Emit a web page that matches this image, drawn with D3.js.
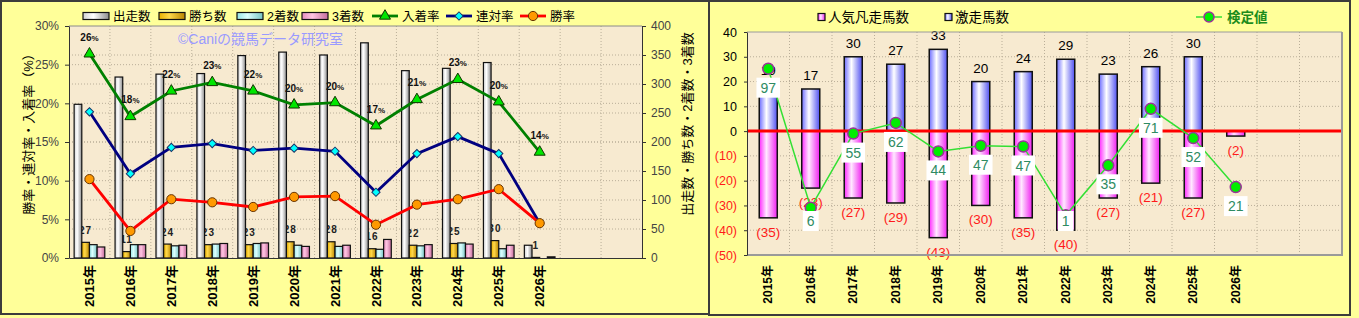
<!DOCTYPE html>
<html>
<head>
<meta charset="utf-8">
<title>競馬データ</title>
<script src="https://d3js.org/d3.v7.min.js"></script>
<style>
  body { margin: 0; background: #ffff99; }
  #chart text { font-family: "Liberation Sans", "Noto Sans CJK JP", sans-serif; }
  .grid line { stroke: #b9ae98; stroke-dasharray: 1,2; stroke-width: 1; }
</style>
</head>
<body>
<svg id="chart" width="1359" height="318"></svg>
<script>
// ---- data ----
const years = ["2015年","2016年","2017年","2018年","2019年","2020年","2021年","2022年","2023年","2024年","2025年","2026年"];
const padSlots = ["pad1", "pad2"];   // two empty columns at the right

// left chart: counts
const runs    = [265, 312, 317, 318, 349, 355, 350, 371, 323, 327, 337, 22];
const wins    = [27, 11, 24, 23, 23, 28, 28, 16, 22, 25, 30, 1];
const seconds = [23, 23, 21, 24, 25, 22, 20, 15, 21, 26, 16, 0];
const thirds  = [19, 23, 22, 25, 26, 20, 22, 32, 23, 24, 22, 2];
// left chart: rates (%)
const winRate    = [10.2, 3.5, 7.6, 7.2, 6.6, 7.9, 8.0, 4.3, 6.9, 7.6, 8.9, 4.5];
const rentaiRate = [18.9, 10.9, 14.3, 14.8, 13.9, 14.2, 13.8, 8.5, 13.5, 15.7, 13.5, 4.5];
const placeRate  = [26.4, 18.3, 21.6, 22.7, 21.6, 19.8, 20.1, 17.1, 20.5, 23.1, 20.2, 13.7];

// right chart
const gekisou   = [19, 17, 30, 27, 33, 20, 24, 29, 23, 26, 30, 0];
const bonsou    = [35, 23, 27, 29, 43, 30, 35, 40, 27, 21, 27, 2];
const kentei    = [97, 6, 55, 62, 44, 47, 47, 1, 35, 71, 52, 21];
const kenteiPos = [25.2, -30.9, -1, 3.3, -8.2, -5.9, -6.2, -34, -13.8, 9, -2.8, -22.6];

// ---- drawing ----
const svg = d3.select("#chart");
const defs = svg.append("defs");

function cylinder(id, edgeL, mid, edgeR) {
  const g = defs.append("linearGradient").attr("id", id)
    .attr("x1", 0).attr("x2", 1).attr("y1", 0).attr("y2", 0);
  g.append("stop").attr("offset", "0%").attr("stop-color", edgeL);
  g.append("stop").attr("offset", "40%").attr("stop-color", mid);
  g.append("stop").attr("offset", "100%").attr("stop-color", edgeR);
}
cylinder("gRuns", "#d0d0d0", "#ffffff", "#8c8c8c");
cylinder("gWins", "#e8b000", "#ffd84a", "#b88400");
cylinder("gSec",  "#98e4e4", "#dcffff", "#78c4c4");
cylinder("gThi",  "#e48cbc", "#ffc4e2", "#c46c9c");
cylinder("gBlue", "#6c6cff", "#ffffff", "#5050f0");
cylinder("gPink", "#ff28ff", "#ffe8ff", "#f020f0");

// panels
svg.append("rect").attr("x", 1).attr("y", 1).attr("width", 708).attr("height", 313)
  .attr("fill", "#ffff99").attr("stroke", "#3c3c3c").attr("stroke-width", 2);
svg.append("rect").attr("x", 709).attr("y", 1).attr("width", 641).attr("height", 314)
  .attr("fill", "#ffff99").attr("stroke", "#3c3c3c").attr("stroke-width", 2);

function styleAxis(g, size) {
  g.attr("font-size", null).attr("font-family", null);
  g.selectAll("path, line").attr("stroke", "#333");
  g.selectAll("text").attr("font-size", size).attr("fill", "#444");
}

// ================= left chart =================
const L = {left: 69, right: 642, top: 26, bottom: 258};
const xL = d3.scaleBand().domain(years.concat(padSlots)).range([L.left, L.right]);
const yRate = d3.scaleLinear().domain([0, 30]).range([L.bottom, L.top]);
const yCount = d3.scaleLinear().domain([0, 400]).range([L.bottom, L.top]);
const barKeys = ["runs", "wins", "seconds", "thirds"];
const xSub = d3.scaleBand().domain(barKeys).range([0, xL.bandwidth()]).paddingOuter(0.67);
const cxL = i => xL(years[i]) + xL.bandwidth() / 2;

const gl = svg.append("g");
gl.append("rect").attr("x", L.left).attr("y", L.top)
  .attr("width", L.right - L.left).attr("height", L.bottom - L.top).attr("fill", "#f7ead0");

const gridL = gl.append("g").attr("class", "grid");
gridL.selectAll("line.v").data(xL.domain().slice(1)).join("line").attr("class", "v")
  .attr("x1", d => xL(d)).attr("x2", d => xL(d)).attr("y1", L.top).attr("y2", L.bottom);
gridL.selectAll("line.hr").data(d3.range(5, 30, 5)).join("line").attr("class", "hr")
  .attr("x1", L.left).attr("x2", L.right).attr("y1", d => yRate(d)).attr("y2", d => yRate(d));
gridL.selectAll("line.hc").data(d3.range(50, 400, 50)).join("line").attr("class", "hc")
  .attr("x1", L.left).attr("x2", L.right).attr("y1", d => yCount(d)).attr("y2", d => yCount(d));

// watermark
gl.append("text").attr("x", 178).attr("y", 44).attr("font-size", 14).attr("fill", "#9a9aff")
  .text("©Caniの競馬データ研究室");

// win count labels (sit behind the bars)
gl.append("g").selectAll("text").data(wins).join("text")
  .attr("x", (d, i) => xL(years[i]) + xSub("wins") + xSub.bandwidth() / 2)
  .attr("y", d => yCount(d) - 8.5)
  .attr("text-anchor", "middle").attr("font-size", 10).attr("font-weight", "bold")
  .attr("letter-spacing", 1).attr("fill", "#222")
  .text(d => d);

const barSeries = [
  {key: "runs", values: runs, fill: "url(#gRuns)"},
  {key: "wins", values: wins, fill: "url(#gWins)"},
  {key: "seconds", values: seconds, fill: "url(#gSec)"},
  {key: "thirds", values: thirds, fill: "url(#gThi)"}
];
barSeries.forEach(s => {
  gl.append("g").selectAll("rect")
    .data(s.values.map((v, i) => ({v, i})).filter(d => d.v > 0))
    .join("rect")
    .attr("x", d => xL(years[d.i]) + xSub(s.key))
    .attr("y", d => yCount(d.v))
    .attr("width", xSub.bandwidth())
    .attr("height", d => yCount(0) - yCount(d.v))
    .attr("fill", s.fill).attr("stroke", "#111").attr("stroke-width", 1.2);
});

// drawn in this order so the win rate sits on top
const lineSeries = [
  {name: "入着率", values: placeRate, color: "#008000", marker: "tri"},
  {name: "連対率", values: rentaiRate, color: "#000080", marker: "dia"},
  {name: "勝率", values: winRate, color: "#ff0000", marker: "dot"}
];

function drawMarker(g, type) {
  if (type === "tri") {
    g.append("path").attr("d", d3.symbol(d3.symbolTriangle, 52)())
      .attr("fill", "#00e600").attr("stroke", "#113300").attr("stroke-width", 1);
  } else if (type === "dia") {
    g.append("path").attr("d", d3.symbol(d3.symbolSquare, 34)()).attr("transform", "rotate(45)")
      .attr("fill", "#00ffff").attr("stroke", "#1a3366").attr("stroke-width", 1);
  } else {
    g.append("circle").attr("r", 4.6)
      .attr("fill", "#ff9900").attr("stroke", "#663300").attr("stroke-width", 1);
  }
}

lineSeries.forEach(s => {
  gl.append("path").datum(s.values)
    .attr("fill", "none").attr("stroke", s.color).attr("stroke-width", 2.8)
    .attr("d", d3.line().x((d, i) => cxL(i)).y(d => yRate(d)));
  gl.append("g").selectAll("g").data(s.values).join("g")
    .attr("transform", (d, i) => `translate(${cxL(i)},${yRate(d)})`)
    .each(function() { drawMarker(d3.select(this), s.marker); });
});

// place rate labels
const plab = gl.append("g").selectAll("text").data(placeRate).join("text")
  .attr("x", (d, i) => cxL(i)).attr("y", d => yRate(d) - 13)
  .attr("text-anchor", "middle").attr("font-size", 10).attr("font-weight", "bold").attr("fill", "#111");
plab.append("tspan").text(d => Math.round(d));
plab.append("tspan").attr("font-size", 8).text("%");

// axes
gl.append("line").attr("x1", L.left).attr("x2", L.right).attr("y1", L.top).attr("y2", L.top)
  .attr("stroke", "#8a8a8a");
gl.append("g").attr("transform", `translate(${L.left},0)`)
  .call(d3.axisLeft(yRate).tickValues(d3.range(0, 31, 5)).tickFormat(d => d + "%")
    .tickSize(4).tickSizeOuter(0).tickPadding(6))
  .call(g => styleAxis(g, 12));
gl.append("g").attr("transform", `translate(${L.right},0)`)
  .call(d3.axisRight(yCount).tickValues(d3.range(0, 401, 50))
    .tickSize(4).tickSizeOuter(0).tickPadding(5))
  .call(g => styleAxis(g, 12));
gl.append("g").attr("transform", `translate(0,${L.bottom})`)
  .call(d3.axisBottom(xL).tickSize(0).tickSizeOuter(0).tickFormat(d => years.includes(d) ? d : ""))
  .call(g => {
    styleAxis(g, 13);
    g.selectAll("text").attr("transform", "rotate(-90)").attr("text-anchor", "end")
      .attr("x", -7).attr("y", 0).attr("dy", "0.35em")
      .attr("font-weight", "bold").attr("fill", "#000");
  });

// axis titles
gl.append("text").attr("transform", "translate(33,131) rotate(-90)")
  .attr("text-anchor", "middle").attr("font-size", 13).attr("fill", "#000")
  .text("勝率・連対率・入着率（%）");
gl.append("text").attr("transform", "translate(692,124) rotate(-90)")
  .attr("text-anchor", "middle").attr("font-size", 13).attr("fill", "#000")
  .text("出走数・勝ち数・2着数・3着数");

// legend
const legL = [
  {label: "出走数", kind: "bar", fill: "url(#gRuns)", x: 83},
  {label: "勝ち数", kind: "bar", fill: "url(#gWins)", x: 159},
  {label: "2着数", kind: "bar", fill: "url(#gSec)", x: 237},
  {label: "3着数", kind: "bar", fill: "url(#gThi)", x: 302},
  {label: "入着率", kind: "line", color: "#008000", marker: "tri", x: 372},
  {label: "連対率", kind: "line", color: "#000080", marker: "dia", x: 446},
  {label: "勝率", kind: "line", color: "#ff0000", marker: "dot", x: 520}
];
const lgL = gl.append("g").selectAll("g").data(legL).join("g")
  .attr("transform", d => `translate(${d.x},16)`);
lgL.each(function(d) {
  const g = d3.select(this);
  if (d.kind === "bar") {
    g.append("rect").attr("x", 0).attr("y", -3.5).attr("width", 26).attr("height", 7)
      .attr("fill", d.fill).attr("stroke", "#111").attr("stroke-width", 1.2);
  } else {
    g.append("line").attr("x1", 0).attr("x2", 26).attr("stroke", d.color).attr("stroke-width", 2.8);
    drawMarker(g.append("g").attr("transform", "translate(13,0)"), d.marker);
  }
  g.append("text").attr("x", 30).attr("dy", "0.36em").attr("font-size", 12.5).attr("fill", "#000")
    .text(d.label);
});

// ================= right chart =================
const R = {left: 747, right: 1342, top: 32, bottom: 255};
const xR = d3.scaleBand().domain(years.concat(padSlots)).range([R.left, R.right])
  .paddingInner(0.576).paddingOuter(0.288);
const yR = d3.scaleLinear().domain([-50, 40]).range([R.bottom, R.top]);
const cxR = i => xR(years[i]) + xR.bandwidth() / 2;

const gr = svg.append("g");
gr.append("rect").attr("x", R.left).attr("y", R.top)
  .attr("width", R.right - R.left).attr("height", R.bottom - R.top).attr("fill", "#f7ead0");

const gridR = gr.append("g").attr("class", "grid");
gridR.selectAll("line.v").data(d3.range(1, xR.domain().length)).join("line").attr("class", "v")
  .attr("x1", k => R.left + k * xR.step()).attr("x2", k => R.left + k * xR.step())
  .attr("y1", R.top).attr("y2", R.bottom);
gridR.selectAll("line.h").data(d3.range(-40, 40, 10)).join("line").attr("class", "h")
  .attr("x1", R.left).attr("x2", R.right).attr("y1", d => yR(d)).attr("y2", d => yR(d));

// bars
gr.append("g").selectAll("rect").data(bonsou).join("rect")
  .attr("x", (d, i) => xR(years[i])).attr("width", xR.bandwidth())
  .attr("y", yR(0)).attr("height", d => yR(-d) - yR(0))
  .attr("fill", "url(#gPink)").attr("stroke", "#111").attr("stroke-width", 1.5);
gr.append("g").selectAll("rect").data(gekisou.map((v, i) => ({v, i})).filter(d => d.v > 0)).join("rect")
  .attr("x", d => xR(years[d.i])).attr("width", xR.bandwidth())
  .attr("y", d => yR(d.v)).attr("height", d => yR(0) - yR(d.v))
  .attr("fill", "url(#gBlue)").attr("stroke", "#111").attr("stroke-width", 1.5);

// bar labels
gr.append("g").selectAll("text").data(gekisou.map((v, i) => ({v, i})).filter(d => d.v > 0)).join("text")
  .attr("x", d => cxR(d.i)).attr("y", d => yR(d.v) - 9)
  .attr("text-anchor", "middle").attr("font-size", 13.5).attr("fill", "#000")
  .text(d => d.v);
gr.append("g").selectAll("text").data(bonsou).join("text")
  .attr("x", (d, i) => cxR(i)).attr("y", d => yR(-d) + 19)
  .attr("text-anchor", "middle").attr("font-size", 13.5).attr("fill", "#ff1a1a")
  .text(d => `(${d})`);

// zero line
gr.append("line").attr("x1", R.left).attr("x2", R.right).attr("y1", yR(0)).attr("y2", yR(0))
  .attr("stroke", "#ff0000").attr("stroke-width", 3);

// 検定値 line
gr.append("path").datum(kenteiPos)
  .attr("fill", "none").attr("stroke", "#33e033").attr("stroke-width", 1.5)
  .attr("d", d3.line().x((d, i) => cxR(i)).y(d => yR(d)));
gr.append("g").selectAll("circle").data(kenteiPos).join("circle")
  .attr("cx", (d, i) => cxR(i)).attr("cy", d => yR(d)).attr("r", 5.5)
  .attr("fill", "#00ee00").attr("stroke", "#993399").attr("stroke-width", 1.5);
const kl = gr.append("g").selectAll("g").data(kentei).join("g")
  .attr("transform", (d, i) => `translate(${cxR(i)},${Math.min(yR(kenteiPos[i]) + 19, R.bottom - 34)})`);
kl.append("rect");
kl.append("text").attr("text-anchor", "middle").attr("dy", "0.36em").attr("font-size", 14)
  .attr("fill", "#2e8b62").text(d => d);
kl.each(function() {
  const g = d3.select(this);
  const w = g.select("text").node().getComputedTextLength();
  g.select("rect").attr("x", -w / 2 - 4).attr("y", -10).attr("width", w + 8).attr("height", 20)
    .attr("fill", "#ffffff");
});

// frame + axes
gr.append("line").attr("x1", R.left).attr("x2", R.right).attr("y1", R.top).attr("y2", R.top)
  .attr("stroke", "#9a9a9a");
gr.append("path").attr("d", `M${R.right},${R.top}V${R.bottom}H${R.left}`)
  .attr("fill", "none").attr("stroke", "#9a9a9a").attr("stroke-width", 2);
gr.append("g").attr("transform", `translate(${R.left},0)`)
  .call(d3.axisLeft(yR).tickValues(d3.range(-50, 41, 10)).tickFormat(d => d < 0 ? `(${-d})` : d)
    .tickSize(3).tickSizeOuter(0).tickPadding(7))
  .call(g => {
    styleAxis(g, 12.5);
    g.selectAll("text").attr("fill", d => d < 0 ? "#ff1a1a" : "#000");
  });
gr.append("g").attr("transform", `translate(0,${R.bottom})`)
  .call(d3.axisBottom(xR).tickSize(0).tickSizeOuter(0).tickFormat(d => years.includes(d) ? d : ""))
  .call(g => {
    styleAxis(g, 12);
    g.select(".domain").remove();
    g.selectAll("text").attr("transform", "rotate(-90)").attr("text-anchor", "end")
      .attr("x", -10).attr("y", 0).attr("dy", "0.35em")
      .attr("font-weight", "bold").attr("fill", "#000");
  });

// legend
const legR = [
  {label: "人気凡走馬数", kind: "box", fill: "url(#gPink)", x: 818},
  {label: "激走馬数", kind: "box", fill: "url(#gBlue)", x: 945},
  {label: "検定値", kind: "line", x: 1196}
];
const lgR = gr.append("g").selectAll("g").data(legR).join("g")
  .attr("transform", d => `translate(${d.x},17)`);
lgR.each(function(d) {
  const g = d3.select(this);
  if (d.kind === "box") {
    g.append("rect").attr("x", 0).attr("y", -3.5).attr("width", 7).attr("height", 7)
      .attr("fill", d.fill).attr("stroke", "#111").attr("stroke-width", 1.2);
    g.append("text").attr("x", 10).attr("dy", "0.36em").attr("font-size", 13.5).attr("fill", "#000")
      .text(d.label);
  } else {
    g.append("line").attr("x1", 0).attr("x2", 26).attr("stroke", "#33e033").attr("stroke-width", 1.5);
    g.append("circle").attr("cx", 13).attr("r", 5).attr("fill", "#00ee00")
      .attr("stroke", "#993399").attr("stroke-width", 1.5);
    g.append("text").attr("x", 31).attr("dy", "0.36em").attr("font-size", 13.5).attr("fill", "#1c8c1c")
      .attr("font-weight", "bold").text(d.label);
  }
});
</script>
</body>
</html>
